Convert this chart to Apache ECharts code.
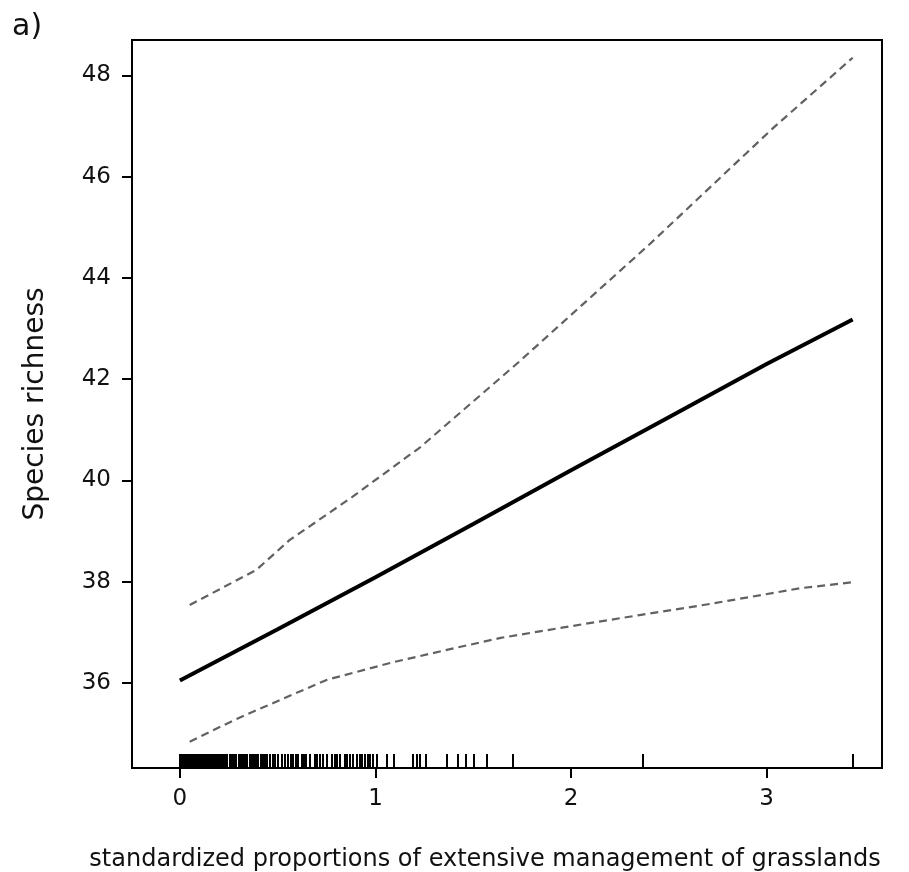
<!DOCTYPE html>
<html>
<head>
<meta charset="utf-8">
<script src="https://cdn.jsdelivr.net/npm/echarts@6/dist/echarts.min.js"></script>
<style>html,body{margin:0;padding:0;background:#fff}#c{width:909px;height:872px}</style>
</head>
<body>
<div id="c"></div>
<script>
// Fitted curve (solid)
const fitX = [0, 0.5, 1.0, 1.5, 2.0, 2.5, 3.0, 3.44];
const fitY = [36.05, 37.06, 38.09, 39.14, 40.2, 41.25, 42.3, 43.18];
// Upper confidence band (dashed)
const upperX = [0.05, 0.39, 0.56, 0.88, 1.23, 1.73, 2.40, 3.03, 3.44];
const upperY = [37.54, 38.23, 38.82, 39.67, 40.66, 42.33, 44.66, 46.95, 48.35];
// Lower confidence band (dashed)
const lowerX = [0.05, 0.29, 0.51, 0.75, 1.09, 1.43, 1.64, 2.06, 2.35, 2.71, 3.17, 3.44];
const lowerY = [34.84, 35.29, 35.66, 36.06, 36.41, 36.71, 36.89, 37.16, 37.34, 37.56, 37.87, 37.99];
// Rug of observed x values
const rugX = [0, 0.005, 0.01, 0.015, 0.02, 0.025, 0.03, 0.035, 0.04, 0.045, 0.05, 0.055, 0.06, 0.065,
  0.07, 0.075, 0.08, 0.085, 0.09, 0.095, 0.1, 0.105, 0.11, 0.115, 0.12, 0.125, 0.13, 0.135, 0.14,
  0.145, 0.15, 0.155, 0.16, 0.165, 0.17, 0.175, 0.18, 0.185, 0.19, 0.195, 0.2, 0.205, 0.21,
  0.22, 0.23, 0.24, 0.255, 0.266, 0.276, 0.286, 0.30, 0.31, 0.32,
  0.333, 0.343, 0.358, 0.365, 0.373, 0.38, 0.389, 0.40, 0.414, 0.425, 0.435, 0.445, 0.46, 0.476,
  0.486, 0.50, 0.52, 0.537, 0.552, 0.565, 0.578, 0.59, 0.604, 0.624, 0.635, 0.645, 0.665, 0.69,
  0.70, 0.716, 0.731, 0.752, 0.777, 0.79, 0.803, 0.818, 0.844, 0.855, 0.87, 0.885, 0.905, 0.921,
  0.93, 0.946, 0.962, 0.972, 0.987, 1.008, 1.059, 1.095, 1.192, 1.212, 1.228, 1.258,
  1.366, 1.422, 1.463, 1.504, 1.57, 1.703, 2.368, 3.442];
// Tick labels
const xTicks = [0, 1, 2, 3];
const yTicks = [36, 38, 40, 42, 44, 46, 48];

const pairs = (xs, ys) => xs.map((x, i) => [x, ys[i]]);
const FONT = 'DejaVu Sans';
const XMIN = -0.245, XMAX = 3.59, YMIN = 34.32, YMAX = 48.7;

const chart = echarts.init(document.getElementById('c'), null, {renderer: 'canvas'});
chart.setOption({
  animation: false,
  backgroundColor: '#fff',
  graphic: [{
    type: 'text', left: 12, top: 12,
    style: {text: 'a)', font: '30px "DejaVu Sans"', fill: '#111'}
  }],
  grid: {left: 132, top: 40, right: 27, bottom: 104, show: true, borderColor: '#000', borderWidth: 2,
         containLabel: false, outerBoundsMode: 'none'},
  xAxis: [{
    type: 'value', min: XMIN, max: XMAX, position: 'bottom',
    name: 'standardized proportions of extensive management of grasslands',
    nameLocation: 'middle', nameGap: 80,
    nameTextStyle: {fontFamily: FONT, fontSize: 24, color: '#111', padding: [0, 44, 0, 0]},
    axisLine: {show: true, onZero: false, lineStyle: {color: '#000', width: 2}},
    axisTick: {show: true, customValues: xTicks, length: 10, lineStyle: {color: '#000', width: 2}},
    axisLabel: {customValues: xTicks, fontFamily: FONT, fontSize: 23, color: '#111', margin: 20},
    splitLine: {show: false}
  }, {
    type: 'value', min: XMIN, max: XMAX, position: 'bottom', gridIndex: 0,
    axisLine: {show: false, onZero: false},
    axisTick: {show: true, inside: true, customValues: rugX, length: 14, lineStyle: {color: '#000', width: 2}},
    axisLabel: {show: false},
    splitLine: {show: false}
  }],
  yAxis: {
    type: 'value', min: YMIN, max: YMAX,
    name: 'Species richness', nameLocation: 'middle', nameGap: 82, nameRotate: 90,
    nameTextStyle: {fontFamily: FONT, fontSize: 28, color: '#111'},
    axisLine: {show: true, onZero: false, lineStyle: {color: '#000', width: 2}},
    axisTick: {show: true, customValues: yTicks, length: 10, lineStyle: {color: '#000', width: 2}},
    axisLabel: {customValues: yTicks, fontFamily: FONT, fontSize: 23, color: '#111', margin: 21},
    splitLine: {show: false}
  },
  series: [{
    type: 'line', name: 'fit', data: pairs(fitX, fitY), showSymbol: false, symbol: 'none',
    lineStyle: {color: '#000', width: 4}, z: 3
  }, {
    type: 'line', name: 'upper', data: pairs(upperX, upperY), showSymbol: false, symbol: 'none',
    lineStyle: {color: '#616161', width: 2.2, type: [8, 5]}
  }, {
    type: 'line', name: 'lower', data: pairs(lowerX, lowerY), showSymbol: false, symbol: 'none',
    lineStyle: {color: '#616161', width: 2.2, type: [8, 5]}
  }]
});
</script>
</body>
</html>
